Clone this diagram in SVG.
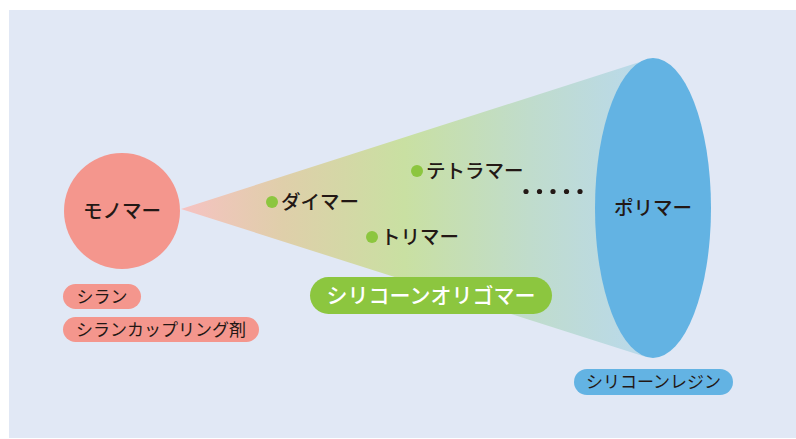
<svg xmlns="http://www.w3.org/2000/svg" width="796" height="439" viewBox="0 0 796 439">
<defs>
<linearGradient id="cone" gradientUnits="userSpaceOnUse" x1="181" y1="0" x2="646" y2="0">
<stop offset="0" stop-color="#f6c2c2"/>
<stop offset="0.22" stop-color="#dfcfaa"/>
<stop offset="0.48" stop-color="#c9e0a2"/>
<stop offset="0.75" stop-color="#c0dccc"/>
<stop offset="1" stop-color="#b9d9ec"/>
</linearGradient>
</defs>
<style>
text{font-family:"Noto Sans CJK JP","Noto Sans",sans-serif;fill:#231815}
.big{font-size:19.5px;font-weight:500}
.lbl{font-size:17px}
.dot{fill:#8cc63f}
.pink{fill:#f4968d}
.blue{fill:#63b3e3}
</style>
<rect x="9" y="10" width="787" height="428" fill="#e1e8f5"/>
<g id="connectors">
<polygon points="181,209 646,60 646,357" fill="url(#cone)"/>
</g>
<g id="monomer">
<circle class="pink" cx="122" cy="211" r="58"/>
<text class="big" x="122" y="218" text-anchor="middle">モノマー</text>
</g>
<g id="polymer">
<ellipse class="blue" cx="653" cy="208" rx="58" ry="150"/>
<text class="big" x="653" y="215" text-anchor="middle">ポリマー</text>
</g>
<g id="dimer">
<circle class="dot" cx="272" cy="202" r="6"/>
<text class="big" x="281" y="209">ダイマー</text>
</g>
<g id="tetramer">
<circle class="dot" cx="417" cy="171" r="6"/>
<text class="big" x="426" y="178">テトラマー</text>
</g>
<g id="trimer">
<circle class="dot" cx="372" cy="237" r="6"/>
<text class="big" x="381" y="244">トリマー</text>
</g>
<g id="ellipsis" fill="#231815">
<circle cx="526" cy="191.5" r="2.6"/>
<circle cx="539.5" cy="191.5" r="2.6"/>
<circle cx="553" cy="191.5" r="2.6"/>
<circle cx="566.5" cy="191.5" r="2.6"/>
<circle cx="580" cy="191.5" r="2.6"/>
</g>
<g id="silane">
<rect class="pink" x="63" y="284" width="78" height="25" rx="12.5"/>
<text class="lbl" x="102" y="302.5" text-anchor="middle">シラン</text>
</g>
<g id="coupling">
<rect class="pink" x="63" y="317" width="196" height="25" rx="12.5"/>
<text class="lbl" x="161" y="335.5" text-anchor="middle">シランカップリング剤</text>
</g>
<g id="oligomer">
<rect x="310" y="277" width="242" height="37" rx="18.5" fill="#8cc63f"/>
<text x="431" y="303" text-anchor="middle" style="font-size:21px;font-weight:500;fill:#ffffff">シリコーンオリゴマー</text>
</g>
<g id="resin">
<rect class="blue" x="574" y="369" width="159" height="26" rx="13"/>
<text class="lbl" x="653.5" y="388" text-anchor="middle">シリコーンレジン</text>
</g>
</svg>
